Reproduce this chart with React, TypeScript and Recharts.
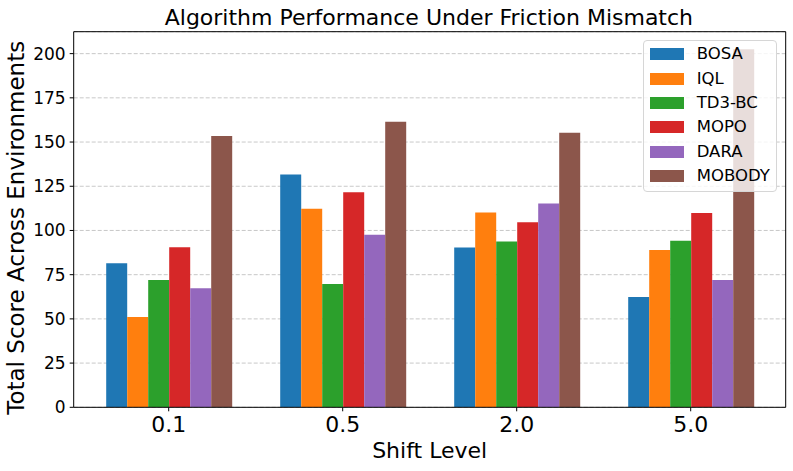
import React from 'react';
import { BarChart, Bar, XAxis, YAxis, CartesianGrid } from 'recharts';

const categories = ['0.1', '0.5', '2.0', '5.0'];
const seriesNames = ['BOSA', 'IQL', 'TD3-BC', 'MOPO', 'DARA', 'MOBODY'];
const seriesColors = ['#1f77b4', '#ff7f0e', '#2ca02c', '#d62728', '#9467bd', '#8c564b'];
const bosa = [81.4, 131.6, 90.3, 62.4];
const iql = [51.1, 112.3, 110.1, 89.0];
const td3bc = [72.0, 69.7, 93.7, 94.2];
const mopo = [90.5, 121.6, 104.6, 109.9];
const dara = [67.3, 97.6, 115.2, 72.0];
const mobody = [153.4, 161.5, 155.3, 202.5];
const yTicks = [0, 25, 50, 75, 100, 125, 150, 175, 200];

const seriesValues = [bosa, iql, td3bc, mopo, dara, mobody];
const data = categories.map((c, i) => {
  const row: Record<string, any> = { shift: c };
  seriesNames.forEach((n, k) => { row[n] = seriesValues[k][i]; });
  return row;
});

const FONT = '"DejaVu Sans", sans-serif';

export default function App() {
  return (
    <div style={{ position: 'absolute', left: 0, top: 0, width: 793, height: 471, background: '#fff', fontFamily: FONT }}>
      <BarChart
        width={793}
        height={471}
        data={data}
        margin={{ top: 30.7, right: 6.3, left: 0, bottom: 0 }}
        barCategoryGap={24.5}
        barGap={0}
      >
        <CartesianGrid vertical={false} stroke="#b0b0b0" strokeOpacity={0.7} strokeDasharray="4 2" />
        <XAxis
          dataKey="shift"
          height={63.7}
          padding={{ left: 8, right: 8 }}
          tickSize={4}
          tickMargin={4.8}
          tick={{ fontSize: 22, fill: '#000', fontFamily: FONT }}
          axisLine={{ stroke: '#000', strokeWidth: 1 }}
          tickLine={{ stroke: '#000' }}
        />
        <XAxis xAxisId="top" dataKey="shift" orientation="top" height={1} tick={false} tickLine={false} axisLine={{ stroke: '#000', strokeWidth: 1 }} />
        <YAxis
          width={73.7}
          domain={[0, 212.4]}
          ticks={yTicks}
          type="number"
          allowDataOverflow
          tickSize={4}
          tickMargin={4}
          tick={{ fontSize: 17, fill: '#000', fontFamily: FONT }}
          axisLine={{ stroke: '#000', strokeWidth: 1 }}
          tickLine={{ stroke: '#000' }}
        />
        <YAxis yAxisId="right" orientation="right" width={1} tick={false} tickLine={false} axisLine={{ stroke: '#000', strokeWidth: 1 }} />
        {seriesNames.map((n, k) => (
          <Bar key={n} dataKey={n} fill={seriesColors[k]} isAnimationActive={false} />
        ))}
      </BarChart>
      <svg width={793} height={471} style={{ position: 'absolute', left: 0, top: 0, pointerEvents: 'none' }}>
        <text x={428.9} y={25} textAnchor="middle" fontSize={22} fontFamily={FONT} fill="#000">
          Algorithm Performance Under Friction Mismatch
        </text>
        <text x={429.7} y={457.7} textAnchor="middle" fontSize={22} fontFamily={FONT} fill="#000">
          Shift Level
        </text>
        <text transform="translate(24.3,227.8) rotate(-90)" textAnchor="middle" fontSize={23} fontFamily={FONT} fill="#000">
          Total Score Across Environments
        </text>
      </svg>
      <div
        style={{
          position: 'absolute',
          left: 642.7,
          top: 40,
          width: 134,
          height: 152,
          boxSizing: 'border-box',
          background: 'rgba(255,255,255,0.8)',
          border: '1px solid #d6d6d6',
          borderRadius: 4,
        }}
      >
        {seriesNames.map((n, k) => (
          <div key={n} style={{ position: 'absolute', left: 0, top: 13.3 + 24.3 * k - 12, height: 24, width: '100%' }}>
            <div style={{ position: 'absolute', left: 6, top: 6, width: 34, height: 12, background: seriesColors[k] }} />
            <div style={{ position: 'absolute', left: 53, top: 0, lineHeight: '24px', fontSize: 16.5, fontFamily: FONT, color: '#000', whiteSpace: 'nowrap' }}>{n}</div>
          </div>
        ))}
      </div>
    </div>
  );
}
